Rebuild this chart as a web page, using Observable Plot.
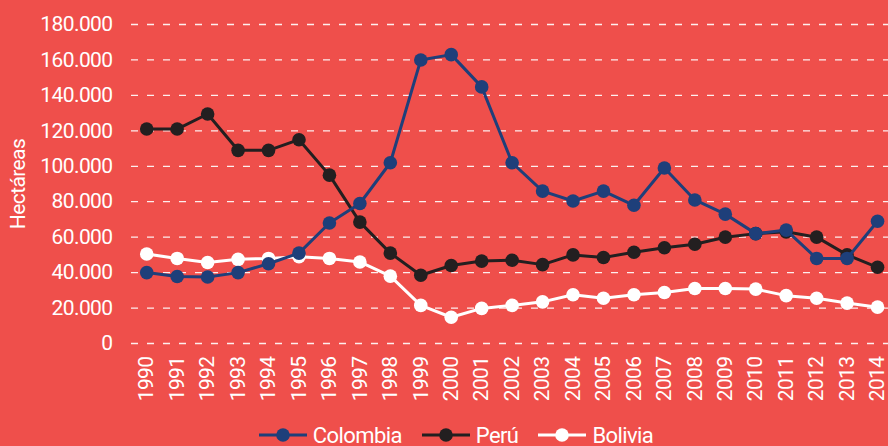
<!DOCTYPE html>
<html>
<head>
<meta charset="utf-8">
<script src="https://cdn.jsdelivr.net/npm/d3@7"></script>
<script src="https://cdn.jsdelivr.net/npm/@observablehq/plot@0.6"></script>
<style>
  html, body { margin: 0; padding: 0; background: #EF4F4B; width: 888px; height: 446px; overflow: hidden; }
  #chart svg { display: block; }
  .fnt { font-family: Roboto, "Liberation Sans", sans-serif; letter-spacing: -0.6px; }
  #legend { display: flex; justify-content: center; align-items: center; height: 28px; color: #fff; font-size: 22px; gap: 20px; padding-left: 24px; margin-top: 3px; }
  #legend .item { display: flex; align-items: center; gap: 6px; }
</style>
</head>
<body>
<div id="chart"></div>
<div id="legend" class="fnt"></div>
<script>
const years = d3.range(1990, 2015);
const colombia = [40000, 37800, 37500, 40000, 45000, 51000, 68000, 79000, 102000, 160000, 163000, 144800, 102000, 86000, 80400, 86000, 78000, 99000, 81000, 73000, 62000, 64000, 48000, 48000, 69000];
const peru = [121000, 121000, 129500, 109000, 109000, 115000, 95000, 68500, 51000, 38500, 44000, 46500, 47000, 44500, 50000, 48500, 51500, 54000, 56000, 60000, 62000, 63000, 60000, 50000, 43000];
const bolivia = [50500, 48000, 45700, 47500, 48000, 49000, 48000, 46000, 38000, 21500, 14800, 19800, 21500, 23500, 27500, 25500, 27500, 28800, 31000, 31000, 30700, 27000, 25500, 22800, 20500];
const seriesNames = ["Colombia", "Perú", "Bolivia"];
const seriesColors = ["#1E3F7A", "#231F20", "#FFFFFF"];
const yTicks = [0, 20000, 40000, 60000, 80000, 100000, 120000, 140000, 160000, 180000];

const seriesValues = [colombia, peru, bolivia];
const data = [];
seriesNames.forEach((name, i) => years.forEach((yr, j) => data.push({country: name, year: yr, value: seriesValues[i][j]})));

const locale = d3.formatLocale({decimal: ",", thousands: ".", grouping: [3], currency: ["", ""]});
const fmt = locale.format(",");
const font = 'Roboto, "Liberation Sans", sans-serif';

const seriesMarks = [];
[...seriesNames].reverse().forEach(name => {
  const sub = data.filter(d => d.country === name);
  seriesMarks.push(Plot.line(sub, {x: "year", y: "value", stroke: "country", strokeWidth: 3}));
  seriesMarks.push(Plot.dot(sub, {x: "year", y: "value", fill: "country", r: 6.8}));
});

const chart = Plot.plot({
  width: 888,
  height: 418,
  marginLeft: 131,
  marginRight: 0,
  marginTop: 24,
  marginBottom: 75,
  style: {background: "transparent", fontFamily: font, fontSize: "21px", color: "#fff", letterSpacing: "-0.6px"},
  x: {domain: [1989.5, 2014.36], axis: null},
  y: {domain: [0, 180000], axis: null},
  color: {domain: seriesNames, range: seriesColors},
  marks: [
    Plot.ruleY(yTicks, {stroke: "#fff", strokeWidth: 1.3, strokeDasharray: "7,9", strokeOpacity: 0.9}),
    Plot.axisY(yTicks, {tickSize: 0, tickPadding: 19, tickFormat: fmt, fill: "#fff", fontSize: 21, label: null}),
    Plot.axisX(years, {tickSize: 0, tickPadding: 13, tickRotate: -90, tickFormat: d => String(d), fill: "#fff", fontSize: 21, label: null}),
    Plot.text(["Hectáreas"], {frameAnchor: "left", textAnchor: "middle", rotate: -90, dx: -113, fill: "#fff", fontSize: 21}),
    ...seriesMarks
  ]
});
document.getElementById("chart").appendChild(chart);

const legend = document.getElementById("legend");
seriesNames.forEach((name, i) => {
  const item = document.createElement("div");
  item.className = "item";
  const c = seriesColors[i];
  item.innerHTML = `<svg width="48" height="16"><line x1="0" x2="48" y1="8" y2="8" stroke="${c}" stroke-width="3"/><circle cx="24" cy="8" r="6.8" fill="${c}"/></svg><span>${name}</span>`;
  legend.appendChild(item);
});
</script>
</body>
</html>
